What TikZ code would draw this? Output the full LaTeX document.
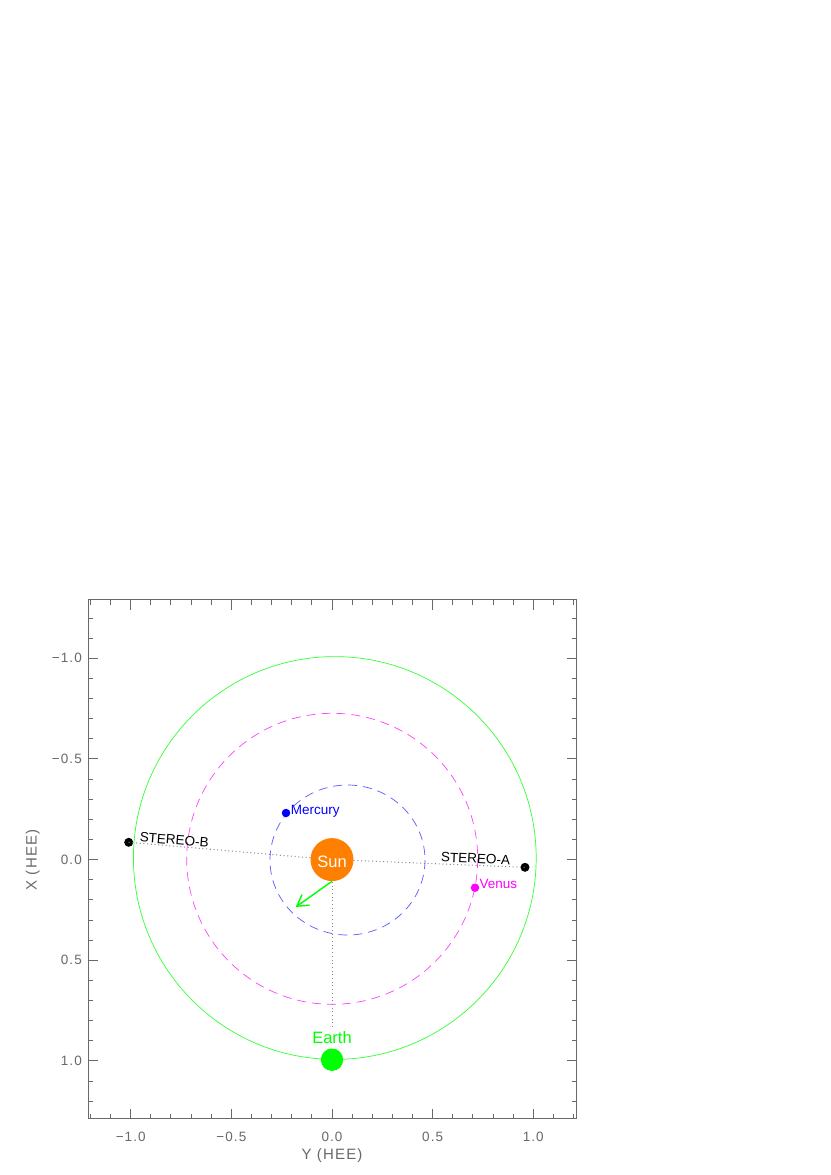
\documentclass[tikz,border=0pt]{standalone}
\usepackage{fontspec}
\setmainfont{Liberation Sans}
\newfontfamily\tickfont[LetterSpace=8]{Liberation Sans}
\usetikzlibrary{arrows.meta}
\definecolor{axisgray}{RGB}{105,105,105}
\definecolor{sunorange}{RGB}{255,128,0}
\definecolor{dotgray}{RGB}{135,135,135}
\definecolor{brightgreen}{RGB}{0,255,0}
\definecolor{mag}{RGB}{255,0,255}
\definecolor{pblue}{RGB}{0,0,255}
\begin{document}
\begin{tikzpicture}[x=1pt,y=-1pt,
  frame/.style={draw=axisgray, line width=1pt},
  tickline/.style={draw=axisgray, line width=1pt},
  ticklbl/.style={text=axisgray, font=\tickfont\fontsize{13.5}{16}\selectfont, inner sep=0pt},
  axtitle/.style={text=axisgray, font=\tickfont\fontsize{15}{18}\selectfont, inner sep=0pt},
  planetdot/.style={circle, inner sep=0pt, minimum size=#1},
  lbl/.style={inner sep=0pt, font=\fontsize{13.5}{16}\selectfont, anchor=base west},
  orbitE/.style={draw=brightgreen!80!white, line width=0.7pt},
  orbitV/.style={draw=mag!75!white, line width=0.7pt, dash pattern=on 9pt off 6pt},
  orbitM/.style={draw=pblue!65!white, line width=0.7pt, dash pattern=on 9pt off 6pt},
  dotline/.style={draw=dotgray, line width=1pt, dash pattern=on 1pt off 2.7pt},
  sunstyle/.style={circle, fill=sunorange, minimum size=43pt, inner sep=0pt, text=white,
    text height=16pt, text depth=0pt, font=\fontsize{16.5}{19}\selectfont},
  grarrow/.style={draw=brightgreen, line width=1.4pt, -{Straight Barb[length=11pt,width=13pt,line width=1.4pt]}}
]
\fill[white] (0,0) rectangle (830,1175);
\useasboundingbox (0,0) rectangle (830,1175);

% frame and ticks
\draw[frame] (88,599.7) rectangle (576.5,1118.7);
\foreach \i in {-12,...,12} {
  \pgfmathsetmacro\px{332+20.13*\i}
  \pgfmathsetmacro\py{859.6+20.13*\i}
  \pgfmathsetmacro\len{ifthenelse(mod(abs(\i),5)==0,10,5)}
  \draw[tickline] (\px,1118.7) -- ++(0,-\len);
  \draw[tickline] (\px,599.7) -- ++(0,\len);
  \draw[tickline] (88,\py) -- ++(\len,0);
  \draw[tickline] (576.5,\py) -- ++(-\len,0);
}
\foreach \v/\t [count=\k] in {-10/−1.0, -5/−0.5, 0/0.0, 5/0.5, 10/1.0} {
  \node[ticklbl, anchor=base] (xl\k) at ({332+20.13*\v},1141) {\t};
  \node[ticklbl, anchor=east] (yl\k) at (82,{859.6+20.13*\v}) {\t};
}
\node[axtitle, anchor=base] (xtitle) at (332,1159.3) {Y (HEE)};
\node[axtitle, anchor=base, rotate=90] (ytitle) at (36.7,860) {X (HEE)};

% orbits
\draw[orbitE] (334.8,858) circle[radius=201.4];
\draw[orbitV] (332.2,858.8) circle[radius=145.5];
\draw[orbitM] (347.5,860) ellipse[x radius=77.5, y radius=75];

% bodies
\node[planetdot=9pt, fill=black] (stb) at (128.7,842.3) {};
\node[planetdot=9pt, fill=black] (sta) at (525,867.3) {};
\node[planetdot=8.5pt, fill=pblue] (mer) at (286,813) {};
\node[planetdot=8.5pt, fill=mag] (ven) at (475,887.7) {};
\coordinate (sunc) at (332,859.6);
\coordinate (lineend) at (332,1028);
\draw[dotline] (stb.center) -- (sunc) -- (sta.center);
\draw[dotline] (sunc) -- (lineend);
\node[sunstyle] (sun) at (sunc) {Sun};
\node[planetdot=22.4pt, fill=brightgreen] (earth) at (332,1059.7) {};
\node[inner sep=0pt, anchor=base, text=brightgreen, font=\fontsize{16.5}{19}\selectfont] (earthlbl) at (332,1043.3) {Earth};

\coordinate (atip) at (295.7,907);
\draw[grarrow] (sun.south) -- (atip);

% labels
\node[lbl, text=black, rotate=-4.5] (stblbl) at (139.3,841.7) {STEREO-B};
\node[lbl, text=black, rotate=-2.5] (stalbl) at (440.7,861.7) {STEREO-A};
\node[lbl, text=pblue] (merlbl) at (290.7,814.3) {Mercury};
\node[lbl, text=mag] (venlbl) at (479.3,888.3) {Venus};
\end{tikzpicture}
\end{document}
